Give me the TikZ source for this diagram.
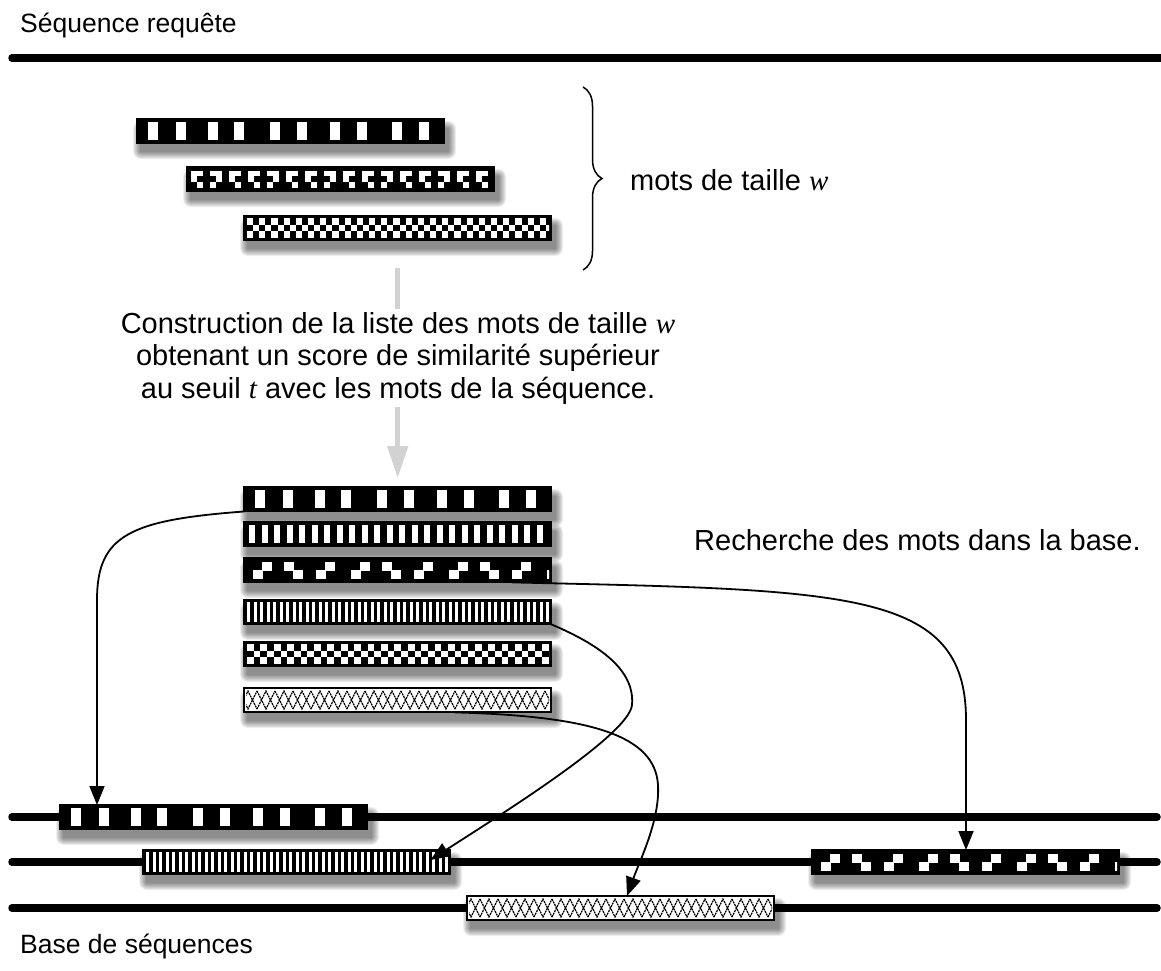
\documentclass[tikz,border=0pt]{standalone}
\usepackage{fontspec}
\setmainfont{Liberation Sans}
\newfontfamily\serifw{Liberation Serif}
\usetikzlibrary{arrows.meta,decorations.pathreplacing,calc}

\newcommand\barshadow[2]{%
  \foreach \i in {1,...,8} {\fill[black,opacity=0.07,rounded corners=\i pt] (#1+4-\i,#2+10-\i) rectangle (#1+311+\i,#2+32+\i);}%
}
% big white rectangles
\newcommand\wpA{%
  \fill[black] (0,0) rectangle (307,24);
  \foreach \u in {11,39,71,97,133,160,193,220,255,282} \fill[white] (\u,3) rectangle (\u+10,21);
}
% coarse stripes
\newcommand\wpB{%
  \fill[black] (0,0) rectangle (307,24);
  \foreach \k in {0,...,23} \fill[white] (5+\k*12.5,3) rectangle (5+\k*12.5+6,21);
}
% large squiggle
\newcommand\wpC{%
  \fill[black] (0,0) rectangle (307,24);
  \begin{scope}
  \clip (2,2) rectangle (305,22);
  \foreach \g in {0,98,196,294} {
    \foreach \s/\t in {9/1,40/2,72/1} {
      \ifnum\t=1
        \fill[white] (\g+\s+9,4) rectangle (\g+\s+19,12.5);
        \fill[white] (\g+\s,12) rectangle (\g+\s+10,20.5);
      \else
        \fill[white] (\g+\s,4) rectangle (\g+\s+10,12.5);
        \fill[white] (\g+\s+9,12) rectangle (\g+\s+19,20.5);
      \fi
    }
  }
  \end{scope}
}
% small squiggle
\newcommand\wpD{%
  \fill[black] (0,0) rectangle (307,24);
  \foreach \k in {0,...,15} {
    \pgfmathtruncatemacro\mm{mod(\k,3)}
    \ifnum\mm=1
      \fill[white] (4+\k*19,3.5) rectangle (16+\k*19,9.2);
      \fill[white] (10+\k*19,9.2) rectangle (16+\k*19,14.9);
      \fill[white] (4+\k*19,14.9) rectangle (10+\k*19,20.6);
    \else
      \fill[white] (4+\k*19,3.5) rectangle (16+\k*19,9.2);
      \fill[white] (4+\k*19,9.2) rectangle (10+\k*19,14.9);
      \fill[white] (10+\k*19,14.9) rectangle (16+\k*19,20.6);
    \fi
  }
}
% checkerboard
\newcommand\wpE[1]{%
  \fill[black] (0,0) rectangle (307,24);
  \begin{scope}
  \clip (2,2) rectangle (305,22);
  \foreach \k in {0,2,...,50} {
    \fill[white] (3+\k*#1,2) rectangle (3+\k*#1+#1,8.7);
    \fill[white] (3+\k*#1+#1,8.7) rectangle (3+\k*#1+2*#1,15.3);
    \fill[white] (3+\k*#1,15.3) rectangle (3+\k*#1+#1,22);
  }
  \end{scope}
}
% fine stripes
\newcommand\wpF{%
  \fill[black] (0,0) rectangle (307,24);
  \foreach \k in {0,...,46} \fill[white] (3+\k*6.5,2) rectangle (3+\k*6.5+3,22);
}
% light crosshatch
\newcommand\wpG{%
  \fill[white] (0,0) rectangle (307,24);
  \begin{scope}
  \clip (2,2) rectangle (305,22);
  \foreach \k in {0,...,17} {
    \draw[hatch] (\k*18-5,3) -- (\k*18+4,21) -- (\k*18+13,3);
    \draw[hatch] (\k*18-5,21) -- (\k*18+4,3) -- (\k*18+13,21);
  }
  \end{scope}
}
\newcommand\wbar[4]{%
  \barshadow{#2}{#3}
  \begin{scope}[shift={(#2,#3)}]
    #4
    \draw[line width=1.5pt] (0,0) rectangle (307,24);
  \end{scope}
  \node[barnode] (#1) at (#2,#3) {};
}

\begin{document}
\begin{tikzpicture}[x=1pt,y=-1pt,
  txt/.style={font=\fontsize{29}{32.5}\selectfont, inner sep=0pt},
  stxt/.style={font=\fontsize{26.5}{32}\selectfont, inner sep=0pt},
  barnode/.style={rectangle, inner sep=0pt, minimum width=307pt, minimum height=24pt, anchor=north west},
  seqline/.style={line width=7.5pt, line cap=round},
  hatch/.style={line width=1.3pt, dash pattern=on 2pt off 0.8pt},
  conn/.style={draw, line width=1.8pt, -{Triangle[length=19pt,width=15pt]}},
  grayarrow/.style={draw=gray!35, line width=5pt, -{Triangle[length=32pt,width=20pt]}}
]
\useasboundingbox (0,0) rectangle (1161,971);

% texts
\node[stxt, anchor=base west] (titre) at (20,33) {Séquence requête};
\node[stxt, anchor=base west] (base) at (20,953) {Base de séquences};
\node[txt, anchor=base west] (mots) at (630,190) {mots de taille {\serifw\itshape w}};
\node[txt, anchor=west] (rech) at (694,540) {Recherche des mots dans la base.};

% sequence lines
\draw[seqline] (12,58) -- (1170,58);
\draw[seqline] (12,817) -- (1157,817);
\draw[seqline] (12,862) -- (1157,862);
\draw[seqline] (12,908) -- (1157,908);

% query words
\wbar{T1}{137}{119}{\wpA}
\wbar{T2}{187}{167}{\wpD}
\wbar{T3}{244}{216}{\wpE{6.1}}

% brace
\draw[line width=1.5pt, decorate, decoration={brace, amplitude=19pt}] (583,87) -- (583,270);

% list of similar words
\wbar{L1}{244}{487}{\wpA}
\wbar{L2}{244}{522}{\wpB}
\wbar{L3}{244}{558}{\wpC}
\wbar{L4}{244}{600}{\wpF}
\wbar{L5}{244}{642}{\wpE{6.7}}
\wbar{L6}{244}{688}{\wpG}

% gray arrow and text
\draw[grayarrow] ([yshift=-28pt]T3.south) -- ([yshift=9pt]L1.north);
\node[txt, align=center, fill=white, inner sep=3pt] (constr) at (398,358)
  {Construction de la liste des mots de taille {\serifw\itshape w}\\
   obtenant un score de similarité supérieur\\
   au seuil {\serifw\itshape t} avec les mots de la séquence.};

% database hits
\wbar{A}{60}{805}{\wpA}
\wbar{B}{143}{850}{\wpF}
\wbar{C}{467}{896}{\wpG}
\wbar{D}{812}{850}{\wpC}

% connectors
\draw[conn] ([xshift=1pt]L1.south west) .. controls (130,520) and (97,535) .. (97,600) -- ([xshift=37pt]A.north west);
\draw[conn] ([xshift=-39pt]L3.south east) .. controls (850,590) and (966,590) .. (966,720) -- ([xshift=154pt]D.north west);
\draw[conn] (L4.south east) .. controls (600,645) and (635,670) .. (632,705) .. controls (629,735) and (500,815) .. ([xshift=-20pt,yshift=-10pt]B.north east);
\draw[conn] ([xshift=211pt]L6.south west) .. controls (590,716) and (655,735) .. (658,785) .. controls (660,820) and (640,860) .. ([xshift=160pt]C.north west);
\end{tikzpicture}
\end{document}
